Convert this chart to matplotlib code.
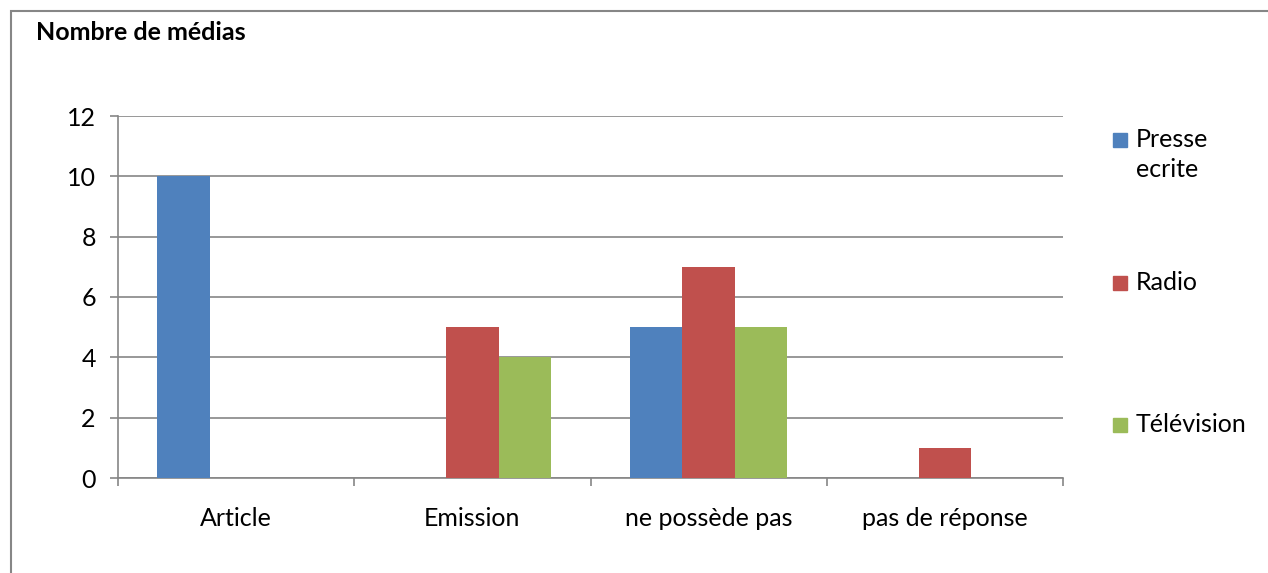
import matplotlib.pyplot as plt
import numpy as np
from matplotlib.patches import Rectangle

categories = ['Article', 'Emission', 'ne possède pas', 'pas de réponse']
series_names = ['Presse\necrite', 'Radio', 'Télévision']
presse = [10, 0, 5, 0]
radio = [0, 5, 7, 1]
television = [0, 4, 5, 0]
colors = ['#4F81BD', '#C0504D', '#9BBB59']

plt.rcParams['font.family'] = ['Lato', 'DejaVu Sans']

fig = plt.figure(figsize=(12.68, 5.73), dpi=100)
ax = fig.add_axes([118 / 1268, 95 / 573, 945 / 1268, 362 / 573])

grey = '#868686'
x = np.arange(len(categories))
w = 0.222
for i, (vals, c) in enumerate(zip([presse, radio, television], colors)):
    ax.bar(x + (i - 1) * w, vals, width=w, color=c, zorder=3)

ax.set_xlim(-0.5, len(categories) - 0.5)
ax.set_ylim(0, 12)
ax.set_yticks(range(0, 13, 2))
ax.yaxis.grid(True, color=grey, linewidth=1.2, zorder=0)

# category boundaries as major ticks, labels at the centres
ax.set_xticks(np.arange(-0.5, len(categories), 1))
ax.set_xticklabels([])
ax.set_xticks(x, minor=True)
ax.set_xticklabels(categories, minor=True)
ax.tick_params(axis='x', which='major', length=6, width=1.2, color=grey, direction='out')
ax.tick_params(axis='x', which='minor', length=0, pad=21, labelsize=18)
ax.tick_params(axis='y', length=6, width=1.2, color=grey, labelsize=18, pad=10)

for s in ['top', 'right']:
    ax.spines[s].set_visible(False)
for s in ['left', 'bottom']:
    ax.spines[s].set_color(grey)
    ax.spines[s].set_linewidth(1.2)

# outer chart frame
fig.patches.append(Rectangle((11 / 1268, -0.05), 1.1, 1 - 11 / 573 + 0.05,
                             transform=fig.transFigure, fill=False,
                             edgecolor=grey, linewidth=1.5))

fig.text(36 / 1268, 1 - 33 / 573, 'Nombre de médias', fontsize=18,
         fontweight='bold', va='center', ha='left')

# legend, laid out like the Excel one
legend_y = [140, 283, 425]
for name, c, yy in zip(series_names, colors, legend_y):
    fig.patches.append(Rectangle((1113 / 1268, 1 - (yy + 7) / 573), 14 / 1268, 14 / 573,
                                 transform=fig.transFigure, color=c))
    fig.text(1136 / 1268, 1 - (yy - 12) / 573, name, fontsize=18,
             va='top', ha='left', linespacing=1.38)

fig.savefig('out.png', dpi=100)
